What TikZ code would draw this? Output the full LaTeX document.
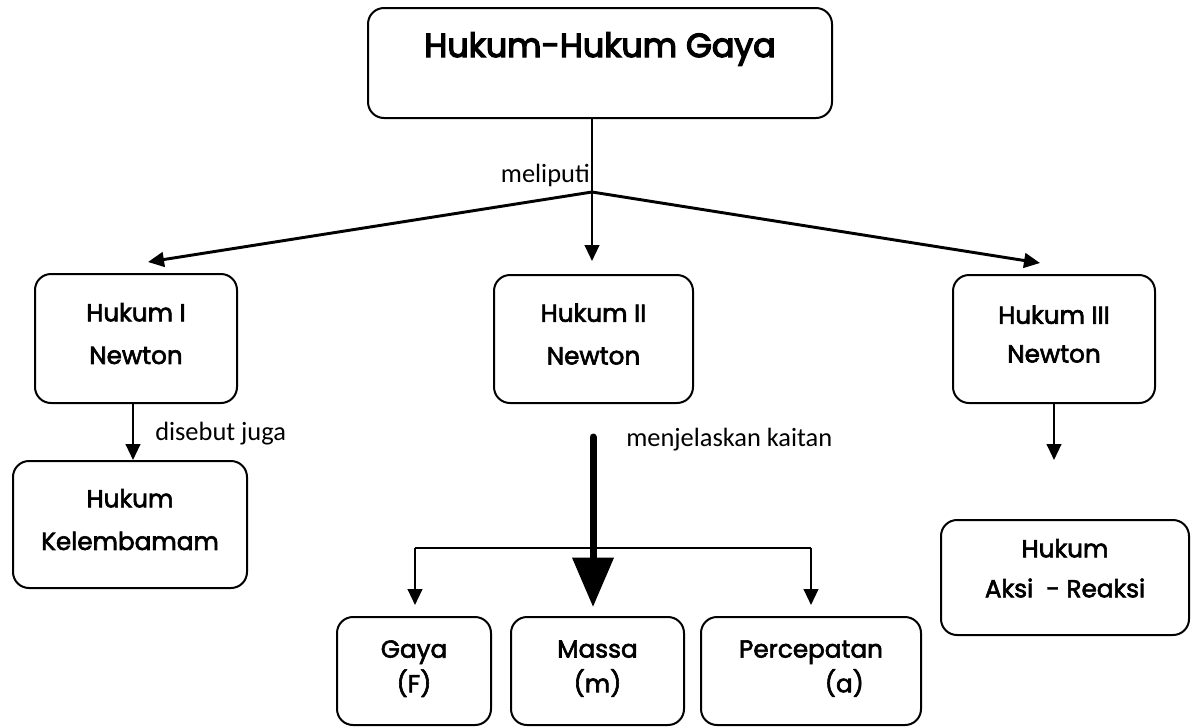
\documentclass[tikz,border=0pt]{standalone}
\usepackage{fontspec}
\setmainfont{Carlito}
\newfontfamily\boxfont{Poppins}[FakeBold=2.5]
\newfontfamily\titlefont{Poppins}[FakeBold=4]
\usetikzlibrary{arrows.meta,calc}
\tikzset{
  box/.style={draw, line width=1.5pt, rounded corners=12pt, align=center,
    font=\boxfont\fontsize{18.5}{32}\selectfont, inner sep=0pt, text depth=7.5pt},
  smallbox/.style={box, font=\boxfont\fontsize{18.5}{26}\selectfont, text depth=7pt},
  arr/.style={line width=1.6pt, -{Triangle[width=11pt,length=12pt]}},
  thinline/.style={line width=1pt},
  lbl/.style={font=\fontsize{19.8}{22}\selectfont, inner sep=0pt},
}
\begin{document}
\begin{tikzpicture}[x=0.75pt,y=-0.75pt]
\useasboundingbox (0,0) rectangle (1194,726);
% boxes
\node[box, minimum width=348pt, minimum height=82.5pt, text depth=0pt] (top) at (600,63) {};
\node[anchor=base, font=\titlefont\fontsize{25}{30}\selectfont, inner sep=0pt] (title) at (600,57) {Hukum-Hukum Gaya};
\node[box, minimum width=151.5pt, minimum height=96.75pt] (h1) at (136,338.5) {Hukum I\\Newton};
\node[box, minimum width=175.5pt, minimum height=95.25pt] (kel) at (130,524.5) {Hukum\\Kelembamam};
\node[box, minimum width=149.25pt, minimum height=96pt] (h2) at (593.5,339) {Hukum II\\Newton};
\node[box, minimum width=151.5pt, minimum height=96pt, font=\boxfont\fontsize{18.5}{29}\selectfont] (h3) at (1054,339) {Hukum III\\Newton};
\node[box, minimum width=186pt, minimum height=86.25pt, font=\boxfont\fontsize{18.5}{30}\selectfont, text depth=14pt] (aksi) at (1065,577.5) {Hukum\\Aksi\ \ - Reaksi};
\node[smallbox, minimum width=115.5pt, minimum height=81pt] (gaya) at (414,671) {Gaya\\(F)};
\node[smallbox, minimum width=129.75pt, minimum height=81pt] (massa) at (597.5,671) {Massa\\(m)};
\node[smallbox, minimum width=165pt, minimum height=81pt] (perc) at (811,671) {Percepatan\\\hspace*{50pt}(a)};
% coordinates
\coordinate (j) at (592,192);
\coordinate (t1) at (148,262);
\coordinate (t3) at (1040,263);
\coordinate (a1) at (133,403);
\coordinate (a3) at (1054,460);
\coordinate (ts) at (593,437);
\coordinate (bl) at (415,548);
\coordinate (brr) at (811,548);
% connectors
\draw[arr, shorten >=9.75pt] (top.south -| j) -- (h2.north -| j);
\draw[arr, line width=2.2pt] (j) -- (t1);
\draw[arr, line width=2.2pt] (j) -- (t3);
\draw[arr] (a1) -- (a1 |- kel.north);
\draw[arr] (h3.south) -- (a3);
\draw[line width=5.25pt, line cap=round, -{Triangle[width=30pt,length=37pt]}, shorten >=6.75pt] (ts) -- (ts |- massa.north);
\draw[thinline] (bl) -- (brr);
\draw[arr, shorten >=8.25pt] (bl) -- (bl |- gaya.north);
\draw[arr, shorten >=8.25pt] (brr) -- (brr |- perc.north);
% labels
\node[lbl, anchor=base east] (lm) at (590,182) {meliputi};
\node[lbl, anchor=base west] (ld) at (155,440) {disebut juga};
\node[lbl, anchor=base west] (lk) at (626,446) {menjelaskan kaitan};
\end{tikzpicture}
\end{document}
